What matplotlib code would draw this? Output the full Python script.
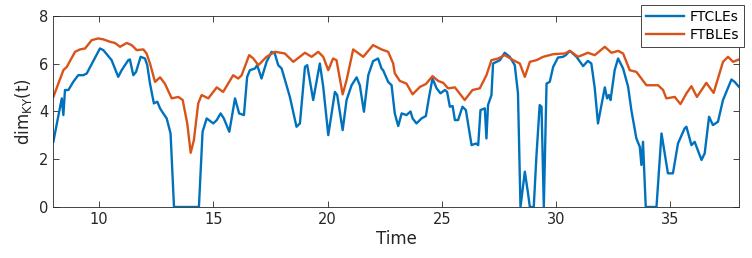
import matplotlib
matplotlib.use('Agg')
import matplotlib.pyplot as plt

# FTCLEs (blue)
t_cle = [8.0, 8.37, 8.44, 8.51, 8.66, 8.87, 9.09, 9.31, 9.46, 10.04, 10.19, 10.55, 10.84, 10.99,
         11.28, 11.35, 11.50, 11.62, 11.82, 12.01, 12.11, 12.23, 12.40, 12.55, 12.67, 12.81, 12.96,
         13.13, 13.28, 14.37, 14.53, 14.71, 15.00, 15.15, 15.32, 15.46, 15.70, 15.95, 16.13, 16.34,
         16.48, 16.60, 16.82, 16.92, 17.11, 17.33, 17.55, 17.69, 17.84, 17.99, 18.35, 18.64, 18.79,
         19.01, 19.11, 19.37, 19.66, 19.81, 20.03, 20.32, 20.42, 20.66, 20.83, 21.05, 21.27, 21.41,
         21.59, 21.78, 21.99, 22.21, 22.36, 22.43, 22.65, 22.80, 22.94, 23.09, 23.24, 23.45, 23.63,
         23.72, 23.89, 24.11, 24.30, 24.44, 24.59, 24.77, 24.94, 25.13, 25.23, 25.35, 25.47, 25.57,
         25.71, 25.90, 26.05, 26.30, 26.49, 26.59, 26.69, 26.88, 26.95, 27.02, 27.17, 27.24, 27.54,
         27.75, 27.97, 28.19, 28.33, 28.44, 28.63, 28.77, 28.85, 29.02, 29.14, 29.28, 29.36, 29.46,
         29.58, 29.72, 29.87, 30.08, 30.30, 30.42, 30.60, 30.89, 31.18, 31.39, 31.54, 31.69, 31.83,
         32.13, 32.23, 32.31, 32.38, 32.56, 32.71, 32.93, 33.15, 33.29, 33.51, 33.66, 33.73, 33.80,
         33.92, 34.39, 34.61, 34.89, 35.11, 35.33, 35.62, 35.70, 35.92, 36.06, 36.36, 36.50, 36.69,
         36.86, 37.08, 37.30, 37.67, 37.81, 38.0]
v_cle = [2.73, 4.55, 3.85, 4.9, 4.9, 5.24, 5.52, 5.52, 5.59, 6.64, 6.57, 6.15, 5.45, 5.73,
         6.15, 6.18, 5.52, 5.66, 6.29, 6.22, 5.94, 5.17, 4.34, 4.41, 4.13, 3.92, 3.71,
         3.08, 0.0, 0.0, 3.15, 3.71, 3.50, 3.64, 3.92, 3.71, 3.15, 4.55, 3.92, 3.85,
         5.45, 5.73, 5.80, 5.94, 5.38, 6.08, 6.50, 6.43, 5.94, 5.80, 4.61, 3.36, 3.50,
         5.87, 5.94, 4.48, 6.01, 5.03, 3.01, 4.82, 4.69, 3.22, 4.48, 5.10, 5.43, 5.10,
         3.99, 5.52, 6.11, 6.22, 5.80, 5.73, 5.24, 5.10, 3.92, 3.39, 3.92, 3.85, 4.0,
         3.71, 3.50, 3.71, 3.81, 4.61, 5.38, 4.97, 4.76, 4.90, 4.82, 4.20, 4.23, 3.64,
         3.64, 4.20, 4.06, 2.59, 2.66, 2.59, 4.06, 4.13, 2.87, 4.27, 4.69, 6.01, 6.15,
         6.46, 6.29, 5.94, 4.76, 0.0, 1.48, 0.57, 0.0, 0.0, 2.18, 4.27, 4.20, 0.0,
         5.17, 5.24, 5.87, 6.26, 6.29, 6.36, 6.54, 6.29, 5.90, 6.12, 6.01, 4.97, 3.50,
         5.01, 4.55, 4.69, 4.48, 5.73, 6.22, 5.80, 5.03, 4.06, 2.87, 2.52, 1.76, 2.73,
         0.0, 0.0, 3.08, 1.41, 1.41, 2.66, 3.29, 3.36, 2.59, 2.73, 1.97, 2.25, 3.78,
         3.43, 3.57, 4.48, 5.34, 5.24, 5.03]

# FTBLEs (orange)
t_ble = [8.0, 8.44, 8.59, 8.95, 9.17, 9.39, 9.68, 9.97, 10.19, 10.48, 10.70, 10.92, 11.21, 11.43,
         11.65, 11.94, 12.08, 12.23, 12.45, 12.67, 12.88, 13.18, 13.47, 13.66, 13.86, 14.01, 14.15,
         14.34, 14.49, 14.78, 15.15, 15.43, 15.87, 16.09, 16.24, 16.57, 16.75, 16.97, 17.33, 17.70,
         18.13, 18.50, 19.01, 19.30, 19.59, 19.81, 20.03, 20.24, 20.39, 20.66, 20.83, 21.12, 21.56,
         21.99, 22.36, 22.65, 22.87, 22.94, 23.16, 23.45, 23.72, 24.04, 24.30, 24.59, 24.84, 25.06,
         25.27, 25.57, 26.0, 26.34, 26.66, 26.95, 27.17, 27.46, 27.75, 28.12, 28.41, 28.63, 28.85,
         29.14, 29.43, 29.87, 30.38, 30.60, 30.96, 31.39, 31.69, 32.13, 32.42, 32.71, 32.93, 33.22,
         33.51, 33.73, 33.95, 34.46, 34.68, 34.82, 35.19, 35.44, 35.70, 35.92, 36.16, 36.57, 36.89,
         37.30, 37.52, 37.74, 38.0]
v_ble = [4.61, 5.73, 5.87, 6.50, 6.60, 6.64, 6.99, 7.06, 7.02, 6.92, 6.87, 6.71, 6.87, 6.78,
         6.57, 6.60, 6.43, 6.01, 5.24, 5.43, 5.17, 4.55, 4.61, 4.48, 3.50, 2.27, 2.80,
         4.34, 4.69, 4.55, 5.01, 4.82, 5.52, 5.38, 5.52, 6.36, 6.22, 5.94, 6.29, 6.50,
         6.43, 6.08, 6.46, 6.29, 6.50, 6.29, 5.73, 6.22, 6.15, 4.72, 5.31, 6.60, 6.29,
         6.78, 6.60, 6.50, 6.01, 5.60, 5.28, 5.17, 4.72, 5.03, 5.15, 5.48, 5.28, 5.20,
         4.97, 5.01, 4.48, 4.90, 4.97, 5.52, 6.15, 6.22, 6.36, 6.15, 6.01, 5.45, 6.08,
         6.15, 6.29, 6.40, 6.43, 6.54, 6.29, 6.46, 6.36, 6.71, 6.46, 6.54, 6.43, 5.73,
         5.66, 5.38, 5.10, 5.10, 4.90, 4.55, 4.61, 4.31, 4.76, 5.06, 4.61, 5.20, 4.78,
         6.08, 6.29, 6.08, 6.18]

xticks = [10, 15, 20, 25, 30, 35]
yticks = [0, 2, 4, 6, 8]

axcol = '#262626'

fig = plt.figure(figsize=(7.52, 2.58), dpi=100)
ax = fig.add_axes([0.0709, 0.1977, 0.9118, 0.7403])

ax.plot(t_cle, v_cle, color='#0072BD', lw=1.7, label='FTCLEs')
ax.plot(t_ble, v_ble, color='#D95319', lw=1.7, label='FTBLEs')

ax.set_xlim(8, 38)
ax.set_ylim(0, 8)
ax.set_xticks(xticks)
ax.set_yticks(yticks)
ax.tick_params(direction='in', top=True, right=True, length=4, width=0.6,
               colors=axcol, labelsize=10.5, labelcolor=axcol)
for s in ax.spines.values():
    s.set_color(axcol)
    s.set_linewidth(0.6)

ax.set_xlabel('Time', fontsize=12, color=axcol, labelpad=2)
ax.set_ylabel(r'dim$_{\mathrm{KY}}$(t)', fontsize=12, color=axcol, labelpad=4)

leg = fig.legend(loc='upper right', bbox_to_anchor=(0.9887, 0.9806), fontsize=10,
                 frameon=True, fancybox=False, handlelength=2.7, borderpad=0.35,
                 labelspacing=0.3, handletextpad=0.4, borderaxespad=0)
leg.get_frame().set_edgecolor(axcol)
leg.get_frame().set_linewidth(0.6)
leg.get_frame().set_alpha(1)

fig.savefig('out.png', dpi=100)
